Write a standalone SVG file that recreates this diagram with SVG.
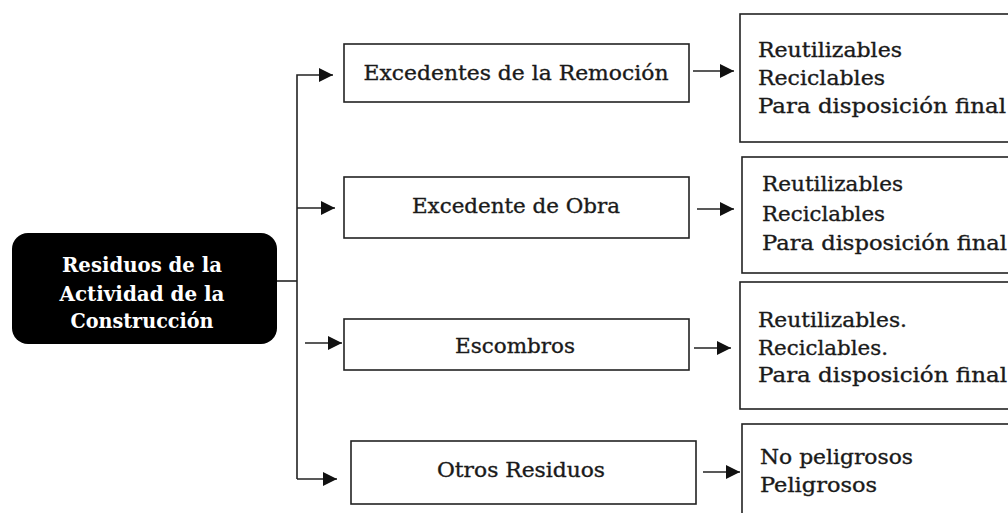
<svg xmlns="http://www.w3.org/2000/svg" width="1008" height="513" viewBox="0 0 1008 513">
<style>
.box{fill:#fff;stroke:#222;stroke-width:1.6}
.t{font-family:"DejaVu Serif","Liberation Serif",serif;fill:#1a1a1a;stroke:#1a1a1a;stroke-width:0.35;font-size:20px}
.c{text-anchor:middle;font-size:20px}
.w{font-family:"DejaVu Serif","Liberation Serif",serif;fill:#fff;font-weight:bold;font-size:20px;text-anchor:middle}
.ln{fill:none;stroke:#222;stroke-width:1.6}
</style>
<defs>
<marker id="ah" markerUnits="userSpaceOnUse" markerWidth="15" markerHeight="14" refX="14" refY="7" orient="auto">
<path d="M0,0 L14,7 L0,14 Z" fill="#111"/>
</marker>
</defs>
<rect width="1008" height="513" fill="#fff"/>
<g id="connectors">
<line class="ln" x1="277" y1="281" x2="297" y2="281"/>
<polyline class="ln" points="297,479 297,75 333,75" marker-end="url(#ah)"/>
<line class="ln" x1="297" y1="208" x2="335" y2="208" marker-end="url(#ah)"/>
<line class="ln" x1="305" y1="343" x2="342" y2="343" marker-end="url(#ah)"/>
<line class="ln" x1="297" y1="479" x2="337" y2="479" marker-end="url(#ah)"/>
<line class="ln" x1="693" y1="71" x2="734" y2="71" marker-end="url(#ah)"/>
<line class="ln" x1="697" y1="209" x2="734" y2="209" marker-end="url(#ah)"/>
<line class="ln" x1="694" y1="348" x2="731" y2="348" marker-end="url(#ah)"/>
<line class="ln" x1="703" y1="472" x2="740" y2="472" marker-end="url(#ah)"/>
</g>
<g id="root">
<rect x="12" y="233" width="265" height="111" rx="16" fill="#000"/>
<text class="w" x="142" y="272" textLength="160" lengthAdjust="spacingAndGlyphs">Residuos de la</text>
<text class="w" x="142" y="301" textLength="165" lengthAdjust="spacingAndGlyphs">Actividad de la</text>
<text class="w" x="142" y="328" textLength="143" lengthAdjust="spacingAndGlyphs">Construcción</text>
</g>
<g id="n1">
<rect class="box" x="344" y="44" width="345" height="58"/>
<text class="t c" x="516" y="80" textLength="305" lengthAdjust="spacingAndGlyphs">Excedentes de la Remoción</text>
</g>
<g id="n2">
<rect class="box" x="344" y="177" width="345" height="61"/>
<text class="t c" x="516" y="213" textLength="208" lengthAdjust="spacingAndGlyphs">Excedente de Obra</text>
</g>
<g id="n3">
<rect class="box" x="344" y="319" width="345" height="51"/>
<text class="t c" x="515" y="353" textLength="120" lengthAdjust="spacingAndGlyphs">Escombros</text>
</g>
<g id="n4">
<rect class="box" x="351" y="441" width="345" height="63"/>
<text class="t c" x="521" y="477" textLength="168" lengthAdjust="spacingAndGlyphs">Otros Residuos</text>
</g>
<g id="r1">
<rect class="box" x="740" y="14" width="280" height="128"/>
<text class="t" x="758" y="57" textLength="144" lengthAdjust="spacingAndGlyphs">Reutilizables</text>
<text class="t" x="758" y="85" textLength="127" lengthAdjust="spacingAndGlyphs">Reciclables</text>
<text class="t" x="758" y="113" textLength="248" lengthAdjust="spacingAndGlyphs">Para disposición final</text>
</g>
<g id="r2">
<rect class="box" x="742" y="157" width="280" height="116"/>
<text class="t" x="762" y="191" textLength="141" lengthAdjust="spacingAndGlyphs">Reutilizables</text>
<text class="t" x="762" y="221" textLength="123" lengthAdjust="spacingAndGlyphs">Reciclables</text>
<text class="t" x="762" y="250" textLength="245" lengthAdjust="spacingAndGlyphs">Para disposición final</text>
</g>
<g id="r3">
<rect class="box" x="740" y="282" width="280" height="127"/>
<text class="t" x="758" y="327" textLength="149" lengthAdjust="spacingAndGlyphs">Reutilizables.</text>
<text class="t" x="758" y="355" textLength="130" lengthAdjust="spacingAndGlyphs">Reciclables.</text>
<text class="t" x="758" y="382" textLength="249" lengthAdjust="spacingAndGlyphs">Para disposición final</text>
</g>
<g id="r4">
<rect class="box" x="742" y="424" width="280" height="120"/>
<text class="t" x="760" y="464" textLength="153" lengthAdjust="spacingAndGlyphs">No peligrosos</text>
<text class="t" x="760" y="492" textLength="117" lengthAdjust="spacingAndGlyphs">Peligrosos</text>
</g>
</svg>
